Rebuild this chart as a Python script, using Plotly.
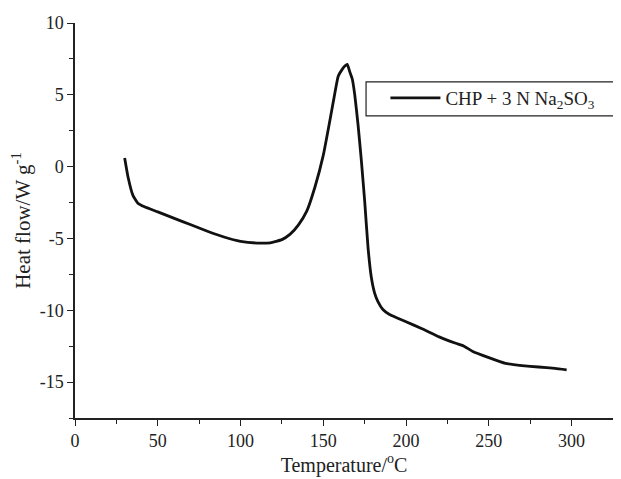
import plotly.graph_objects as go

temperature = [30, 32, 35, 38, 42, 50, 60, 70, 80, 90, 100, 110, 118, 125, 130, 135,
               140, 145, 150, 153, 156, 159, 161, 163, 164.5, 166, 167.5, 169, 171,
               173, 175, 177, 179, 181, 183, 186, 190, 195, 200, 210, 220, 230, 235,
               240, 250, 260, 270, 280, 290, 297]
heat_flow = [0.6, -0.7, -2.0, -2.55, -2.8, -3.15, -3.6, -4.05, -4.5, -4.9, -5.2, -5.32,
             -5.3, -5.08, -4.7, -4.05, -3.1, -1.4, 0.8, 2.6, 4.5, 6.3, 6.7, 7.0, 7.12,
             6.6, 6.1, 5.0, 2.9, 0.4, -2.4, -5.6, -7.7, -8.8, -9.4, -9.95, -10.3,
             -10.55, -10.8, -11.3, -11.85, -12.3, -12.5, -12.85, -13.3, -13.7, -13.85,
             -13.95, -14.05, -14.15]
series_name = "CHP + 3 N Na<sub>2</sub>SO<sub>3</sub>"
y_tick_values = [10, 5, 0, -5, -10, -15]
y_tick_labels = ["10", "5", "0", "-5", "-10", "-15"]

font_family = "Liberation Serif"

fig = go.Figure()
fig.add_trace(go.Scatter(x=temperature, y=heat_flow, mode="lines", name=series_name,
                         line=dict(color="#111111", width=2.8, shape="spline", smoothing=0.4)))

axis_common = dict(showline=True, linecolor="#222222", linewidth=1.5, showgrid=False,
                   zeroline=False, ticks="outside", ticklen=6, tickwidth=1.3,
                   tickcolor="#222222", mirror=False, automargin=False,
                   tickfont=dict(family=font_family, size=18, color="#222222"))

# legend frame (decoration), in paper coordinates
fig.add_shape(type="rect", xref="paper", yref="paper",
              x0=0.541, x1=1.012, y0=0.765, y1=0.851,
              line=dict(color="#222222", width=1.2), fillcolor="rgba(0,0,0,0)")

# page body has an 8px margin, so the figure is offset by 8px right and down
fig.update_layout(
    width=613, height=471,
    margin=dict(l=67, r=8, t=15, b=61),
    paper_bgcolor="white", plot_bgcolor="white",
    font=dict(family=font_family, size=18, color="#222222"),
    showlegend=True,
    legend=dict(x=0.577, y=0.858, xanchor="left", yanchor="top",
                borderwidth=0, bgcolor="rgba(0,0,0,0)",
                font=dict(family=font_family, size=19, color="#222222"),
                itemwidth=50, tracegroupgap=0),
    xaxis=dict(range=[0, 325], tick0=0, dtick=50,
               minor=dict(dtick=25, ticks="outside", ticklen=4, tickwidth=1.2, tickcolor="#222222"),
               title=dict(text="Temperature/<sup>o</sup>C", standoff=4,
                          font=dict(family=font_family, size=20)),
               **axis_common),
    yaxis=dict(range=[-17.5, 10], tickmode="array", tickvals=y_tick_values,
               ticktext=y_tick_labels,
               minor=dict(tick0=0, dtick=2.5, ticks="outside", ticklen=4, tickwidth=1.2,
                          tickcolor="#222222"),
               title=dict(text="Heat flow/W g<sup>-1</sup>", standoff=6,
                          font=dict(family=font_family, size=21)),
               **axis_common),
)

fig.write_html("out.html")
